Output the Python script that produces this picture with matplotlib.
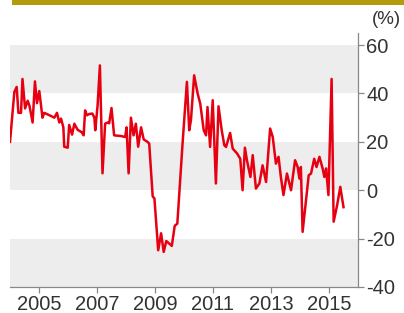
import matplotlib.pyplot as plt
from matplotlib.patches import Rectangle

# traced vertices of the line (decimal year, %)
years = [2004.00, 2004.15, 2004.23, 2004.29, 2004.38, 2004.43, 2004.52, 2004.61, 2004.67, 2004.78,
         2004.86, 2004.93, 2005.01, 2005.12, 2005.18, 2005.36, 2005.53, 2005.62, 2005.70, 2005.76,
         2005.84, 2005.87, 2005.99, 2006.04, 2006.14, 2006.22, 2006.33, 2006.47, 2006.54, 2006.59,
         2006.65, 2006.73, 2006.84, 2006.91, 2006.94, 2007.02, 2007.10, 2007.19, 2007.28, 2007.37,
         2007.42, 2007.50, 2007.59, 2007.83, 2007.97, 2008.02, 2008.09, 2008.17, 2008.26, 2008.34,
         2008.42, 2008.52, 2008.61, 2008.74, 2008.80, 2008.92, 2008.98, 2009.11, 2009.21, 2009.30,
         2009.39, 2009.58, 2009.68, 2009.77, 2009.95, 2010.10, 2010.18, 2010.24, 2010.35, 2010.47,
         2010.56, 2010.68, 2010.76, 2010.81, 2010.90, 2010.99, 2011.10, 2011.19, 2011.30, 2011.39,
         2011.45, 2011.59, 2011.68, 2011.83, 2011.94, 2012.02, 2012.10, 2012.17, 2012.29, 2012.37,
         2012.48, 2012.60, 2012.71, 2012.83, 2012.97, 2013.06, 2013.17, 2013.26, 2013.34, 2013.43,
         2013.55, 2013.69, 2013.83, 2013.92, 2013.98, 2014.03, 2014.09, 2014.30, 2014.38, 2014.49,
         2014.57, 2014.67, 2014.78, 2014.84, 2014.90, 2014.98, 2015.09, 2015.16, 2015.28, 2015.39,
         2015.50]
values = [20, 40.6, 42.7, 32, 32, 46, 33.8, 37, 35, 28,
          45, 36, 41, 30, 32, 31, 30, 32, 28, 29.6,
          26, 18, 17.6, 27, 23, 27.5, 25, 24, 22.7, 33,
          31, 31.5, 31.7, 30, 24.8, 35, 51.6, 7, 27.5, 28,
          27.7, 34, 22.7, 22.4, 22, 26, 7, 30, 22.7, 27.5,
          18, 26, 21, 20, 19.3, -2.5, -3.4, -24.8, -17.8, -25.5,
          -21, -23, -14.7, -13.8, 19.3, 44.8, 24.8, 29, 47.5, 40,
          35.8, 24.8, 22.7, 34.4, 17.9, 37.2, 2.8, 34.7, 24.8, 18.6,
          17.9, 23.7, 17.2, 15.2, 13, 0, 17.6, 12.4, 5.5, 14.5,
          0.7, 2.8, 10.3, 3.4, 25.5, 22, 11, 13.8, 5.5, -2,
          6.9, 0, 12.4, 9.6, 4.8, 9.6, -17.2, 6.2, 6.9, 13,
          9.6, 13.8, 9, 5.5, 9, -2, 46, -13, -6.2, 1.4,
          -7]

xticks = [2005, 2007, 2009, 2011, 2013, 2015]
yticks = [60, 40, 20, 0, -20, -40]
bands = [(40, 60), (0, 20), (-40, -20)]

plt.rcParams['font.family'] = ['Liberation Sans', 'DejaVu Sans']
plt.rcParams['axes.unicode_minus'] = False

fig = plt.figure(figsize=(4.04, 3.13), dpi=100)
ax = fig.add_axes([10 / 404, 26 / 313, 348 / 404, 254 / 313])

for lo, hi in bands:
    ax.axhspan(lo, hi, color='#ededed', lw=0, zorder=0)

ax.plot(years, values, color='#e60012', lw=1.8, zorder=3)

ax.set_xlim(2004, 2016)
ax.set_ylim(-40, 65)
ax.set_xticks(xticks)
ax.set_yticks(yticks)
ax.yaxis.tick_right()
for s in ['top', 'left']:
    ax.spines[s].set_visible(False)
for s in ['right', 'bottom']:
    ax.spines[s].set_color('#888888')
    ax.spines[s].set_linewidth(0.9)
ax.tick_params(axis='both', colors='#888888', labelcolor='#333333', labelsize=14.5,
               length=4, width=0.9, pad=2)
ax.set_facecolor('white')

# header strip, cut off at the top
fig.patches.append(Rectangle((12 / 404, 1 - 5 / 313), 392 / 404, 5 / 313,
                             transform=fig.transFigure, color='#b49b0c', lw=0))
fig.text(386 / 404, 1 - 19 / 313, '(%)', ha='center', va='center',
         fontsize=13.5, color='#333333')

fig.savefig('out.png', dpi=100)
